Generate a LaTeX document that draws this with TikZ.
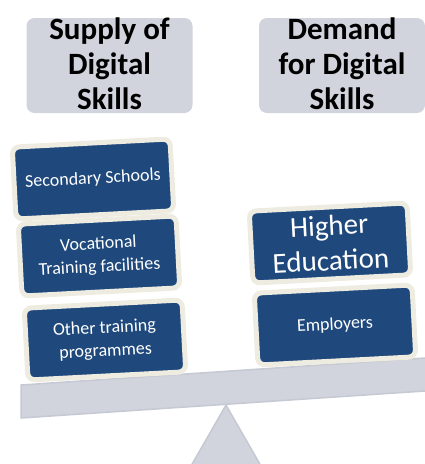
\documentclass[tikz,border=0pt]{standalone}
\usepackage{fontspec}
\setmainfont{Carlito}
\usetikzlibrary{positioning}
\definecolor{panel}{HTML}{D1D4DC}
\definecolor{panelrim}{HTML}{C5C9D3}
\definecolor{block}{HTML}{1F497D}
\definecolor{blockrim}{HTML}{EEECE1}

\tikzset{
  header/.style={fill=panel,rounded corners=8pt,minimum width=166pt,minimum height=95pt,
    inner sep=0pt},
  headtext/.style={font=\fontsize{31}{35}\selectfont\bfseries,align=center},
  block/.style={fill=block,draw=blockrim,line width=5pt,rounded corners=7pt,
    minimum width=158pt,minimum height=72pt,align=center,text=white,
    font=\fontsize{18}{23}\selectfont,rotate=3},
  beam/.style={fill=panel,draw=panelrim,line width=1.5pt}
}

\begin{document}
\begin{tikzpicture}[x=1pt,y=-1pt]
\useasboundingbox (0,0) rectangle (425,464);
\clip (0,0) rectangle (425,464);
% seesaw
\draw[beam] (226,405) -- (269,480) -- (183,480) -- cycle;
\draw[beam] (21,385) -- (440,357) -- (440,390) -- (21,418) -- cycle;
% headers
\node[header] (supply) at (109.5,65.5) {};
\node[header] (demand) at (342,65.5) {};
\node[headtext] (supplytext) at ([yshift=2pt]supply) {Supply of\\Digital\\Skills};
\node[headtext] (demandtext) at ([yshift=2pt]demand) {Demand\\for Digital\\Skills};
% supply side
\node[block] (schools) at (93,179) {Secondary Schools};
\node[block] (vocational) at (99,256) {Vocational\\Training facilities};
\node[block] (other) at (105,340) {Other training\\programmes};
% demand side
\node[block,font=\fontsize{29}{35}\selectfont] (higher) at (330,243) {Higher\\Education};
\node[block] (employers) at (335,325) {Employers};
\end{tikzpicture}
\end{document}
